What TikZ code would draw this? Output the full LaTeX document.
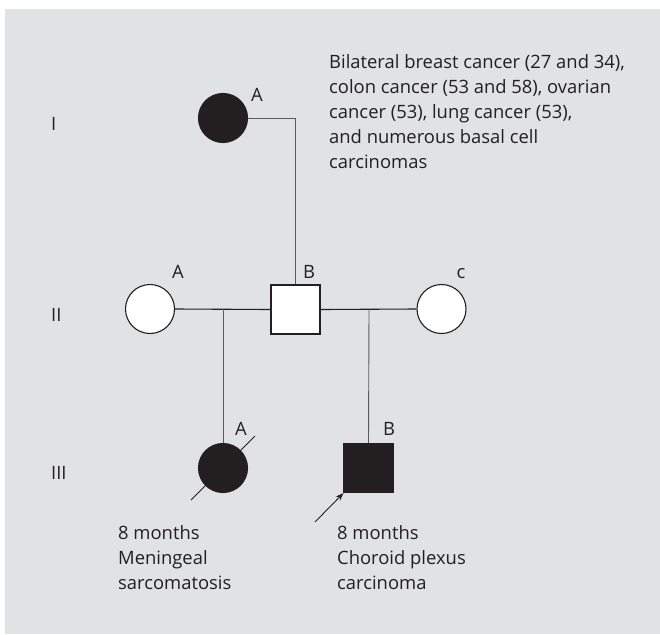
\documentclass[tikz,border=0pt]{standalone}
\usepackage{fontspec}
\setmainfont{Open Sans}
\usetikzlibrary{arrows.meta,calc}
\definecolor{bg}{HTML}{E1E2E4}
\definecolor{ink}{HTML}{231F20}
\definecolor{lineg}{HTML}{5A5A5C}
\begin{document}
\begin{tikzpicture}[x=1pt,y=-1pt,
  every node/.style={font=\fontsize{18.4}{25}\selectfont, text=ink},
  fem/.style={circle, draw=ink, line width=1.1pt, minimum size=49pt, inner sep=0pt},
  mal/.style={rectangle, draw=ink, line width=1.1pt, minimum size=49pt, inner sep=0pt},
  aff/.style={fill=ink},
  unaff/.style={fill=white},
  link/.style={draw=lineg, line width=0.9pt},
  mate/.style={draw=ink, line width=1.1pt},
  lbl/.style={anchor=base, inner sep=0pt},
  txt/.style={anchor=base west, align=left, inner sep=0pt}]
\useasboundingbox (0,0) rectangle (660,634);
\fill[white] (0,0) rectangle (660,634);
\fill[bg] (5,9) rectangle (660,634);
% generation labels
\node[anchor=west, inner sep=0pt] (gI) at (51,124) {I};
\node[anchor=west, inner sep=0pt] (gII) at (51,315) {II};
\node[anchor=west, inner sep=0pt] (gIII) at (51,473) {III};
% individuals
\node[fem, aff] (I1) at (223,118) {};
\node[fem, unaff] (II1) at (150,309) {};
\node[mal, unaff] (II2) at (295.5,309.5) {};
\node[fem, unaff] (II3) at (441.5,309) {};
\node[fem, aff] (III1) at (223,468) {};
\node[mal, aff] (III2) at (368.5,468) {};
% letters
\node[lbl] (lI1) at (257,101) {A};
\node[lbl] (lII1) at (178,278) {A};
\node[lbl] (lII2) at (309,278) {B};
\node[lbl] (lII3) at (461,278) {c};
\node[lbl] (lIII1) at (241,435) {A};
\node[lbl] (lIII2) at (389,435) {B};
% connectors
\draw[link] (I1.east) -| (II2.north);
\draw[mate] (II1.east) -- (II2.west);
\draw[mate] (II2.east) -- (II3.west);
\coordinate (d1) at (223,309);
\coordinate (d2) at (369,309);
\draw[link] (d1) -- (III1.north);
\draw[link] (d2) -- (III2.north);
% deceased slash
\coordinate (s1) at (191,500);
\coordinate (s2) at (255,436);
\draw[ink, line width=0.9pt] (s1) -- (s2);
% proband arrow
\coordinate (pa) at (315,522);
\draw[ink, line width=0.9pt, -{Stealth[length=8pt,width=6pt]}] (pa) -- (III2.south west);
% texts (base anchor = last line baseline)
\node[txt] (tI) at (329,168) {Bilateral breast cancer (27 and 34),\\colon cancer (53 and 58), ovarian\\cancer (53), lung cancer (53),\\and numerous basal cell\\carcinomas};
\node[txt] (tIII1) at (118,589) {8 months\\Meningeal\\sarcomatosis};
\node[txt] (tIII2) at (337,589) {8 months\\Choroid plexus\\carcinoma};
\end{tikzpicture}
\end{document}
